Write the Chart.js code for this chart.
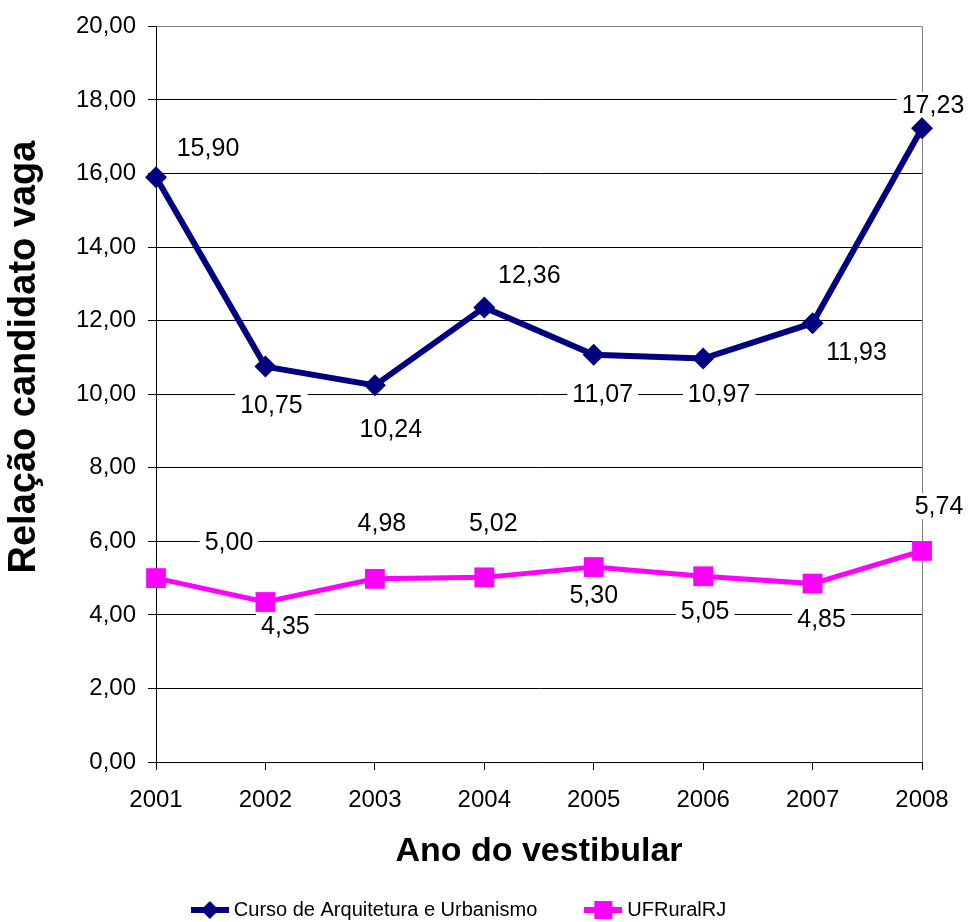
<!DOCTYPE html>
<html>
<head>
<meta charset="utf-8">
<script src="https://cdn.jsdelivr.net/npm/chart.js@4"></script>
<style>
  body { margin: 0; background: #fff; }
  #wrap { width: 977px; height: 922px; }
</style>
</head>
<body>
<div id="wrap"><canvas id="chart"></canvas></div>
<script>
const years = ['2001', '2002', '2003', '2004', '2005', '2006', '2007', '2008'];

const arquiteturaValues = [15.90, 10.75, 10.24, 12.36, 11.07, 10.97, 11.93, 17.23];
const ufrrjValues = [5.00, 4.35, 4.98, 5.02, 5.30, 5.05, 4.85, 5.74];

const seriesNames = ['Curso de Arquitetura e Urbanismo', 'UFRuralRJ'];

const yMin = 0;
const yMax = 20;
const yStep = 2;

// where each value label sits, relative to its point (px)
const arquiteturaLabelOffsets = [[52, -29], [6, 38], [16, 44], [45, -32], [9, 39], [16, 36], [44, 29], [11, -23]];
const ufrrjLabelOffsets = [[73, -36], [20, 24], [7, -56], [9, -54], [0, 28], [2, 35], [9, 35], [17, -45]];

const NAVY = '#000080';
const MAGENTA = '#FF00FF';
const FONT = "'Liberation Sans', Arial, sans-serif";

Chart.defaults.font.family = FONT;
Chart.defaults.color = '#000';

const fmt = v => v.toFixed(2).replace('.', ',');

function legendMarker(color, shape) {
    const c = document.createElement('canvas');
    c.width = 38;
    c.height = 22;
    const g = c.getContext('2d');
    g.fillStyle = color;
    g.fillRect(0, 8, 38, 6);
    if (shape === 'diamond') {
        g.beginPath();
        g.moveTo(19, 2);
        g.lineTo(28, 11);
        g.lineTo(19, 20);
        g.lineTo(10, 11);
        g.closePath();
        g.fill();
    } else {
        g.fillRect(10, 2, 18, 18);
    }
    return c;
}

const markers = [legendMarker(NAVY, 'diamond'), legendMarker(MAGENTA, 'square')];

const valueLabels = {
    id: 'valueLabels',
    beforeDatasetsDraw(chart) {
        const ctx = chart.ctx;
        ctx.save();
        ctx.font = '25px ' + FONT;
        ctx.textAlign = 'center';
        ctx.textBaseline = 'middle';
        chart.data.datasets.forEach((ds, i) => {
            const meta = chart.getDatasetMeta(i);
            meta.data.forEach((pt, j) => {
                const [dx, dy] = ds.labelOffsets[j];
                const x = pt.x + dx;
                const y = pt.y + dy;
                const text = fmt(ds.data[j]);
                const w = ctx.measureText(text).width;
                ctx.fillStyle = '#fff';
                ctx.fillRect(x - w / 2 - 5, y - 13, w + 10, 26);
                ctx.fillStyle = '#000';
                ctx.fillText(text, x, y + 1);
            });
        });
        ctx.restore();
    }
};

const yTitle = {
    id: 'yTitle',
    afterDraw(chart) {
        const ctx = chart.ctx;
        ctx.save();
        ctx.translate(25, 357);
        ctx.rotate(-Math.PI / 2);
        ctx.font = 'bold 38px ' + FONT;
        ctx.textAlign = 'center';
        ctx.textBaseline = 'middle';
        ctx.fillStyle = '#000';
        ctx.fillText('Relação candidato vaga', 0, 0);
        ctx.restore();
    }
};

const dataChart = {
    labels: years,
    datasets: [
        {
            label: seriesNames[0],
            data: arquiteturaValues,
            labelOffsets: arquiteturaLabelOffsets,
            borderColor: NAVY,
            backgroundColor: NAVY,
            borderWidth: 6,
            pointStyle: 'rectRot',
            pointRadius: 11,
            pointBorderWidth: 0,
            tension: 0,
            clip: false,
        },
        {
            label: seriesNames[1],
            data: ufrrjValues,
            labelOffsets: ufrrjLabelOffsets,
            borderColor: MAGENTA,
            backgroundColor: MAGENTA,
            borderWidth: 5,
            pointStyle: 'rect',
            pointRadius: 14,
            pointBorderWidth: 0,
            tension: 0,
            clip: false,
        }
    ]
};

const config = {
    type: 'line',
    data: dataChart,
    plugins: [valueLabels, yTitle],
    options: {
        responsive: true,
        maintainAspectRatio: false,
        animation: false,
        layout: {
            padding: { left: 0, right: 55, top: 25, bottom: -8 }
        },
        plugins: {
            tooltip: { enabled: false },
            legend: {
                position: 'bottom',
                labels: {
                    font: { size: 20 },
                    color: '#000',
                    usePointStyle: true,
                    pointStyleWidth: 28,
                    padding: 52,
                    generateLabels: chart => chart.data.datasets.map((ds, i) => ({
                        text: ds.label,
                        pointStyle: markers[i],
                        datasetIndex: i,
                        hidden: false,
                        lineWidth: 0,
                    })),
                }
            }
        },
        scales: {
            x: {
                offset: false,
                afterFit: scale => { scale.height = 86; },
                ticks: {
                    font: { size: 24 },
                    padding: 16,
                    maxRotation: 0,
                },
                grid: {
                    color: c => c.index === years.length - 1 ? '#808080' : 'rgba(0,0,0,0)',
                    tickColor: '#000',
                    tickLength: 8,
                },
                border: { color: '#000', width: 1 },
                title: {
                    display: true,
                    text: 'Ano do vestibular',
                    font: { size: 34, weight: 'bold' },
                    padding: { top: 0, bottom: -24 },
                }
            },
            y: {
                min: yMin,
                max: yMax,
                afterFit: scale => { scale.width = 156; },
                ticks: {
                    stepSize: yStep,
                    font: { size: 24 },
                    padding: 12,
                    callback: v => fmt(v),
                },
                grid: {
                    color: c => c.tick && c.tick.value === yMax ? '#808080' : '#000',
                    tickColor: '#000',
                    tickLength: 8,
                },
                border: { color: '#000', width: 1 },
            }
        }
    }
};

const chart = new Chart(document.getElementById('chart'), config);
</script>
</body>
</html>
